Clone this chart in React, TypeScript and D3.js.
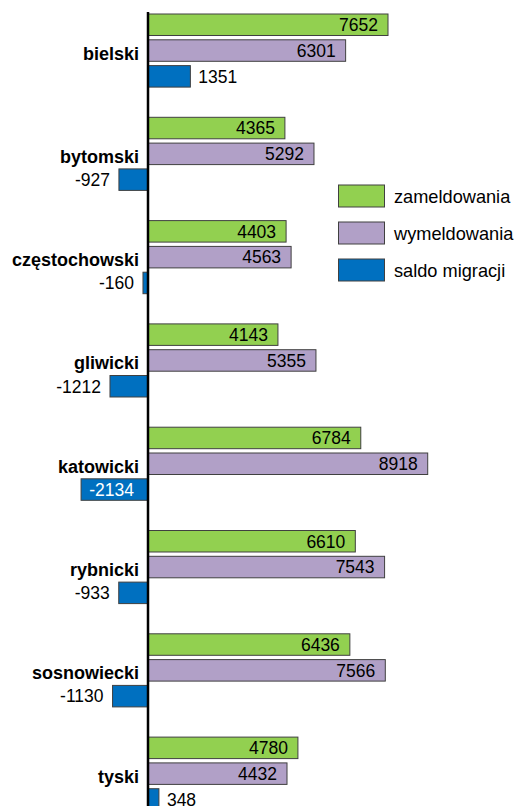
import React from "react";
import * as d3 from "d3";

const categories = ["bielski", "bytomski", "częstochowski", "gliwicki", "katowicki", "rybnicki", "sosnowiecki", "tyski"];
const zameldowania = [7652, 4365, 4403, 4143, 6784, 6610, 6436, 4780];
const wymeldowania = [6301, 5292, 4563, 5355, 8918, 7543, 7566, 4432];
const saldo = [1351, -927, -160, -1212, -2134, -933, -1130, 348];
const seriesNames = ["zameldowania", "wymeldowania", "saldo migracji"];
const seriesColors = ["#92D050", "#B1A0C7", "#0070C0"];

const W = 517;
const H = 806;
const FONT = "Liberation Sans, Arial, sans-serif";

export default function App() {
  const x = d3.scaleLinear().domain([0, 7652]).range([148, 388]);
  const y = d3.scaleBand<string>().domain(categories).range([14, 14 + 8 * 103.3]).paddingInner(0).paddingOuter(0);
  const sub = d3.scaleBand<number>().domain([0, 1, 2]).range([0, 73.1]).paddingInner(0.167);
  const series = [zameldowania, wymeldowania, saldo];
  const bh = sub.bandwidth();

  return (
    <svg width={W} height={H} style={{ position: "absolute", left: 0, top: 0, background: "#fff" }} fontFamily={FONT}>
      {categories.map((c, i) => {
        const gy = y(c)!;
        return (
          <g key={c}>
            {series.map((s, si) => {
              const v = s[i];
              const by = gy + sub(si)!;
              const x0 = x(Math.min(0, v));
              const x1 = x(Math.max(0, v));
              const cy = by + bh / 2;
              let label;
              if (si < 2) {
                label = (
                  <text x={x1 - 10} y={cy} dy="0.36em" textAnchor="end" fontSize={17.5} fill="#000">{v}</text>
                );
              } else if (v >= 0) {
                label = (
                  <text x={x1 + 8} y={cy} dy="0.36em" textAnchor="start" fontSize={17.5} fill="#000">{v}</text>
                );
              } else if (x0 - 9 - 40 < 40) {
                label = (
                  <text x={x(0) - 14} y={cy} dy="0.36em" textAnchor="end" fontSize={17.5} fill="#fff">{v}</text>
                );
              } else {
                label = (
                  <text x={x0 - 9} y={cy} dy="0.36em" textAnchor="end" fontSize={17.5} fill="#000">{v}</text>
                );
              }
              return (
                <g key={si}>
                  <rect x={x0} y={by} width={Math.max(0, x1 - x0)} height={bh} fill={seriesColors[si]} stroke="#404040" strokeWidth={1} />
                  {label}
                </g>
              );
            })}
            <text x={139} y={gy + sub(1)! + bh / 2 + 9} textAnchor="end" fontSize={18} fontWeight="bold" fill="#000">{c}</text>
          </g>
        );
      })}
      <line x1={148} x2={148} y1={12} y2={H} stroke="#000" strokeWidth={2.5} />
      {seriesNames.map((n, i) => {
        const ly = 185 + i * 37;
        return (
          <g key={n}>
            <rect x={338.5} y={ly} width={46} height={22} fill={seriesColors[i]} stroke="#404040" strokeWidth={1} />
            <text x={394} y={ly + 11} dy="0.36em" fontSize={18.2} fill="#000">{n}</text>
          </g>
        );
      })}
    </svg>
  );
}
